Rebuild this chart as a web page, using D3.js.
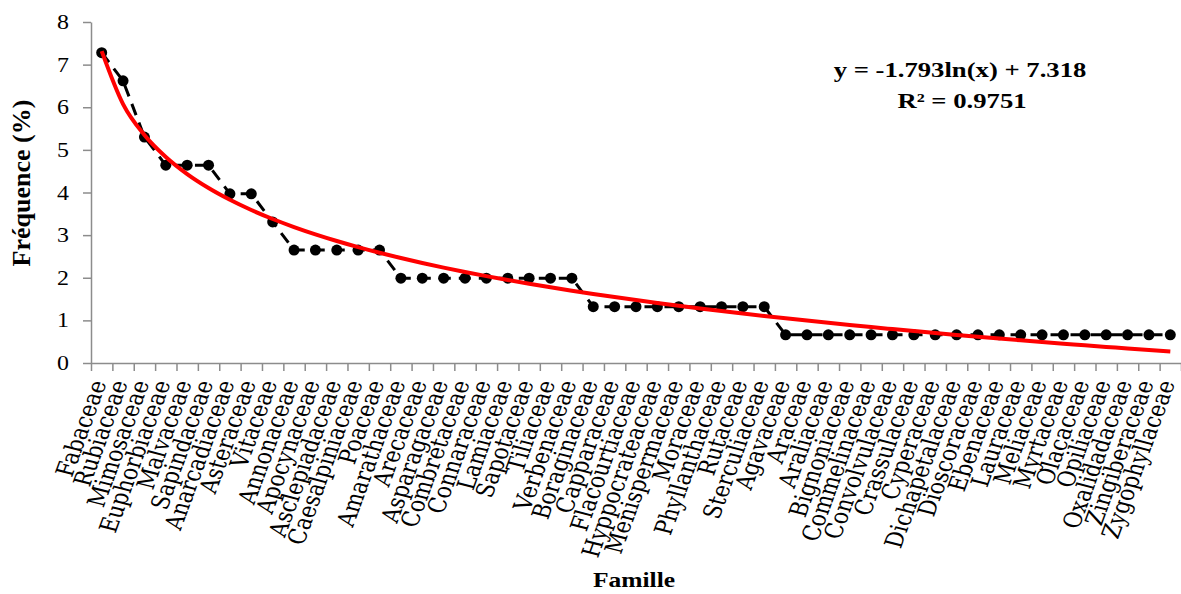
<!DOCTYPE html>
<html>
<head>
<meta charset="utf-8">
<script src="https://cdn.jsdelivr.net/npm/d3@7"></script>
<style>
  body { margin: 0; background: #fff; }
  .serif { font-family: "Liberation Serif", "Times New Roman", serif; }
  .catLabel { font-family: "DejaVu Serif", serif; }
</style>
</head>
<body>
<div id="chart"></div>
<script>
// data
var families = ["Fabaceae", "Rubiaceae", "Mimosaceae", "Euphorbiaceae", "Malvaceae", "Sapindaceae",
  "Anarcadiaceae", "Asteraceae", "Vitaceae", "Annonaceae", "Apocynaceae", "Asclepiadaceae",
  "Caesalpiniaceae", "Poaceae", "Amarathaceae", "Arecaceae", "Asparagaceae", "Combretaceae",
  "Connaraceae", "Lamiaceae", "Sapotaceae", "Tiliaceae", "Verbenaceae", "Boraginaceae",
  "Capparaceae", "Flacourtiaceae", "Hyppocrateaceae", "Menispermaceae", "Moraceae",
  "Phyllanthaceae", "Rutaceae", "Sterculiaceae", "Agavaceae", "Araceae", "Araliaceae",
  "Bignoniaceae", "Commelinaceae", "Convolvulaceae", "Crassulaceae", "Cyperaceae",
  "Dichapetalaceae", "Dioscoraceae", "Ebenaceae", "Lauraceae", "Meliaceae", "Myrtaceae",
  "Olacaceae", "Opiliaceae", "Oxalidadaceae", "Zingiberaceae", "Zygophyllaceae"];

var frequencies = [7.28, 6.62, 5.30, 4.64, 4.64, 4.64, 3.97, 3.97, 3.31, 2.65, 2.65, 2.65,
  2.65, 2.65, 1.99, 1.99, 1.99, 1.99, 1.99, 1.99, 1.99, 1.99, 1.99, 1.32, 1.32, 1.32,
  1.32, 1.32, 1.32, 1.32, 1.32, 1.32, 0.66, 0.66, 0.66, 0.66, 0.66, 0.66, 0.66, 0.66,
  0.66, 0.66, 0.66, 0.66, 0.66, 0.66, 0.66, 0.66, 0.66, 0.66, 0.66];

var yTicks = [0, 1, 2, 3, 4, 5, 6, 7, 8];

// logarithmic trend line shown on the chart
var trendSlope = -1.793;
var trendIntercept = 7.318;
var trendR2 = "0.9751";

// SVG layout
var svgWidth = 1181;
var svgHeight = 594;

var margin = { top: 22, right: 0, bottom: 231, left: 91 };
var width = svgWidth - margin.left - margin.right;
var height = svgHeight - margin.top - margin.bottom;

var axisColor = "#8c8c8c";

var svg = d3.select("#chart")
  .append("svg")
  .attr("width", svgWidth)
  .attr("height", svgHeight);

var chartGroup = svg.append("g")
  .attr("transform", `translate(${margin.left}, ${margin.top})`);

// scales
var xBand = d3.scaleBand().domain(families).range([0, width]);
var xEdges = d3.scaleLinear().domain([0, families.length]).range([0, width]);
var yLinearScale = d3.scaleLinear().domain([0, 8]).range([height, 0]);

var xCenter = d => xBand(d) + xBand.bandwidth() / 2;

// y axis
var yAxis = chartGroup.append("g")
  .call(d3.axisLeft(yLinearScale).tickValues(yTicks).tickSize(8).tickSizeOuter(0).tickFormat(""));

yAxis.selectAll("path, line")
  .attr("stroke", axisColor)
  .attr("stroke-width", 1.5);

chartGroup.append("g")
  .selectAll("text")
  .data(yTicks)
  .enter()
  .append("text")
  .classed("serif", true)
  .attr("transform", d => `translate(-22, ${yLinearScale(d) + 7}) scale(1.14, 1)`)
  .attr("text-anchor", "end")
  .attr("font-size", "21px")
  .attr("fill", "#000")
  .text(d => d);

// x axis with ticks between categories
var xAxis = chartGroup.append("g")
  .attr("transform", `translate(0, ${height})`)
  .call(d3.axisBottom(xEdges).ticks(families.length).tickSize(8).tickSizeOuter(0).tickFormat(""));

xAxis.selectAll("path, line")
  .attr("stroke", axisColor)
  .attr("stroke-width", 1.5);

// rotated category labels
chartGroup.append("g")
  .selectAll("text")
  .data(families)
  .enter()
  .append("text")
  .classed("catLabel", true)
  .attr("transform", d => `translate(${xCenter(d) + 5}, ${height + 20}) scale(1.2, 1) rotate(-73)`)
  .attr("text-anchor", "end")
  .attr("font-size", "20.7px")
  .attr("fill", "#000")
  .text(d => d);

// dashed data line
var seriesLine = d3.line()
  .x((d, i) => xCenter(families[i]))
  .y(d => yLinearScale(d));

chartGroup.append("path")
  .datum(frequencies)
  .attr("d", seriesLine)
  .attr("fill", "none")
  .attr("stroke", "#000")
  .attr("stroke-width", 3)
  .attr("stroke-dasharray", "12,8");

chartGroup.selectAll(".dot")
  .data(frequencies)
  .enter()
  .append("circle")
  .attr("class", "dot")
  .attr("cx", (d, i) => xCenter(families[i]))
  .attr("cy", d => yLinearScale(d))
  .attr("r", 5.5)
  .attr("fill", "#000");

// trend curve
var trendValues = families.map((f, i) => trendSlope * Math.log(i + 1) + trendIntercept);

var trendLine = d3.line()
  .x((d, i) => xCenter(families[i]))
  .y(d => yLinearScale(d))
  .curve(d3.curveMonotoneX);

chartGroup.append("path")
  .datum(trendValues)
  .attr("d", trendLine)
  .attr("fill", "none")
  .attr("stroke", "#ff0000")
  .attr("stroke-width", 4);

// equation label
var eqGroup = svg.append("g")
  .classed("serif", true)
  .attr("font-weight", "bold")
  .attr("font-size", "21px")
  .attr("fill", "#000")
  .attr("text-anchor", "middle");

eqGroup.append("text")
  .attr("transform", "translate(960, 77) scale(1.27, 1)")
  .text(`y = ${trendSlope}ln(x) + ${trendIntercept}`);

eqGroup.append("text")
  .attr("transform", "translate(962, 108) scale(1.27, 1)")
  .text(`R² = ${trendR2}`);

// axis titles
svg.append("text")
  .classed("serif", true)
  .attr("transform", `translate(30, ${margin.top + 161}) rotate(-90)`)
  .attr("text-anchor", "middle")
  .attr("font-weight", "bold")
  .attr("font-size", "26px")
  .text("Fréquence (%)");

svg.append("text")
  .classed("serif", true)
  .attr("transform", "translate(634, 587) scale(1.16, 1)")
  .attr("text-anchor", "middle")
  .attr("font-weight", "bold")
  .attr("font-size", "22px")
  .text("Famille");
</script>
</body>
</html>
